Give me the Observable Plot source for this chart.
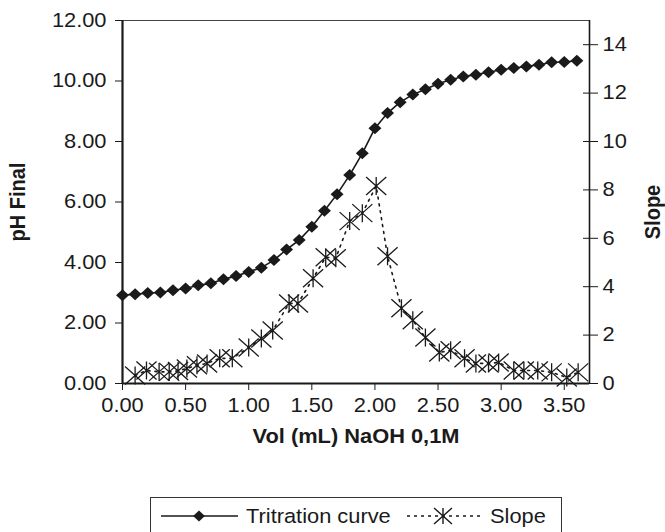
<!DOCTYPE html>
<html>
<head>
<meta charset="utf-8">
<script src="https://cdn.jsdelivr.net/npm/d3@7"></script>
<script src="https://cdn.jsdelivr.net/npm/@observablehq/plot@0.6"></script>
<style>
  html, body { margin: 0; padding: 0; background: #fff; }
  #wrap { position: relative; width: 665px; height: 532px; overflow: hidden; font-family: "Liberation Sans", Arial, sans-serif; }
  #legend { position: absolute; left: 150px; top: 497px; width: 412px; height: 42px; box-sizing: border-box; border: 1px solid #333; background: #fff; }
</style>
</head>
<body>
<div id="wrap"><div id="chart"></div><div id="legend"></div></div>
<script>
// ---- data ----
const volume = [0.0,0.1,0.2,0.3,0.4,0.5,0.6,0.7,0.8,0.9,1.0,1.1,1.2,1.3,1.4,1.5,1.6,1.7,1.8,1.9,2.0,2.1,2.2,2.3,2.4,2.5,2.6,2.7,2.8,2.9,3.0,3.1,3.2,3.3,3.4,3.5,3.6];
const pH = [2.92,2.95,2.99,3.01,3.08,3.14,3.25,3.31,3.45,3.55,3.69,3.83,4.08,4.43,4.74,5.18,5.71,6.26,6.89,7.61,8.44,8.94,9.30,9.55,9.73,9.91,10.04,10.15,10.21,10.29,10.37,10.43,10.48,10.54,10.62,10.63,10.67];
const slopeVolume = [0.10,0.19,0.29,0.37,0.44,0.51,0.59,0.67,0.77,0.87,1.00,1.10,1.19,1.32,1.39,1.51,1.61,1.69,1.80,1.90,2.01,2.10,2.21,2.30,2.40,2.51,2.60,2.71,2.80,2.90,2.98,3.10,3.18,3.29,3.40,3.52,3.61];
const slope = [0.33,0.54,0.48,0.48,0.52,0.62,0.75,0.83,1.04,1.04,1.49,1.86,2.19,3.31,3.31,4.35,5.22,5.18,6.71,7.04,8.16,5.26,3.11,2.61,1.90,1.28,1.37,1.04,0.83,0.83,0.87,0.54,0.54,0.54,0.46,0.25,0.46];
const xTicks = [0,0.5,1.0,1.5,2.0,2.5,3.0,3.5];
const xMax = 3.7;
const pHTicks = [0,2,4,6,8,10,12];
const pHMax = 12;
const slopeTicks = [0,2,4,6,8,10,12,14];
const slopeMax = 15;
const xLabel = "Vol (mL) NaOH 0,1M";
const yLabel = "pH Final";
const y2Label = "Slope";
const seriesNames = ["Tritration curve", "Slope"];

// ---- build tables ----
const k = pHMax / slopeMax; // map slope onto the pH scale
const phData = volume.map((v, i) => ({v, y: pH[i]}));
const slopeData = slopeVolume.map((v, i) => ({v, s: slope[i], y: slope[i] * k}));

// Excel-like star marker (X plus vertical bar), slightly wider than tall
const star = {
  draw(ctx, size) {
    const h = Math.sqrt(size / Math.PI);
    const w = h * 1.12;
    ctx.moveTo(-w, -h); ctx.lineTo(w, h);
    ctx.moveTo(-w, h); ctx.lineTo(w, -h);
    ctx.moveTo(0, -h); ctx.lineTo(0, h);
  }
};
// diamond marker, slightly wider than tall
const diamond = {
  draw(ctx, size) {
    const h = Math.sqrt(size / Math.PI);
    const w = h * 1.08;
    ctx.moveTo(0, -h); ctx.lineTo(w, 0); ctx.lineTo(0, h); ctx.lineTo(-w, 0); ctx.closePath();
  }
};

const ink = "#1a1a1a";
const font = "'Liberation Sans', Arial, Helvetica, sans-serif";
const chart = Plot.plot({
  width: 665,
  height: 470,
  marginLeft: 122,
  marginRight: 76,
  marginTop: 20,
  marginBottom: 87,
  x: {domain: [0, xMax]},
  y: {domain: [0, pHMax]},
  style: {fontFamily: font, fontSize: "19.5px", color: ink, background: "#fff", overflow: "visible"},
  marks: [
    Plot.frame({stroke: "#444", strokeWidth: 1}),
    Plot.ruleX([0], {stroke: ink, strokeWidth: 2.2}),
    Plot.ruleX([xMax], {stroke: ink, strokeWidth: 1.6}),
    Plot.ruleY([0], {stroke: ink, strokeWidth: 1.8}),
    Plot.axisX({ticks: xTicks, tickFormat: d => d.toFixed(2), tickSize: 7, tickPadding: 8, label: null, stroke: ink}),
    Plot.axisY({ticks: pHTicks, tickFormat: d => d.toFixed(2), tickSize: 7, tickPadding: 9, label: null, stroke: ink}),
    Plot.axisY({anchor: "right", ticks: slopeTicks.map(t => t * k), tickFormat: d => String(Math.round(d / k)), tickSize: 8, tickPadding: 5, label: null, stroke: ink}),
    Plot.axisY({anchor: "right", ticks: slopeTicks.map(t => t * k), tickFormat: () => "", tickSize: 7, dx: -7, label: null, stroke: ink}),
    Plot.text([yLabel], {frameAnchor: "left", textAnchor: "middle", rotate: -90, dx: -105, fontWeight: "bold", fontSize: 20, fill: ink}),
    Plot.text([y2Label], {frameAnchor: "right", textAnchor: "middle", rotate: -90, dx: 63, dy: 10, fontWeight: "bold", fontSize: 20, fill: ink}),
    Plot.text([xLabel], {frameAnchor: "bottom", dy: 59, fontWeight: "bold", fontSize: 19.5, fill: ink}),
    Plot.line(slopeData, {x: "v", y: "y", stroke: ink, strokeWidth: 1.6, strokeDasharray: "2,5"}),
    Plot.dot(slopeData, {x: "v", y: "y", symbol: star, r: 9, fill: "none", stroke: ink, strokeWidth: 1.3}),
    Plot.line(phData, {x: "v", y: "y", stroke: ink, strokeWidth: 1.6}),
    Plot.dot(phData, {x: "v", y: "y", symbol: diamond, r: 6, fill: ink, stroke: "none"})
  ]
});
document.getElementById("chart").appendChild(chart);

// the reference's lettering is a little wider than Liberation Sans: widen each text around its anchor
function widen(root, sx) {
  root.querySelectorAll("text").forEach(el => {
    const t = el.getAttribute("transform");
    if (t) {
      el.setAttribute("transform", t + (/rotate/.test(t) ? ` scale(1,${sx})` : ` scale(${sx},1)`));
    } else {
      const x = +el.getAttribute("x") || 0, y = +el.getAttribute("y") || 0;
      el.setAttribute("transform", `translate(${x},${y}) scale(${sx},1) translate(${-x},${-y})`);
    }
  });
}
widen(chart, 1.12);

// ---- legend ----
const lg = d3.select("#legend").append("svg").attr("width", 410).attr("height", 40)
  .style("font-family", font);
lg.append("line").attr("x1", 10).attr("x2", 87).attr("y1", 18).attr("y2", 18).attr("stroke", ink).attr("stroke-width", 1.6);
lg.append("path").attr("d", () => { const p = d3.path(); diamond.draw(p, Math.PI * 30); return p.toString(); }).attr("transform", "translate(48,18)").attr("fill", ink);
lg.append("text").attr("x", 95).attr("y", 25).attr("font-size", 19.5).attr("fill", ink).text(seriesNames[0]);
lg.append("line").attr("x1", 256).attr("x2", 331).attr("y1", 18).attr("y2", 18).attr("stroke", ink).attr("stroke-width", 1.6).attr("stroke-dasharray", "3,4");
lg.append("path").attr("d", () => { const p = d3.path(); star.draw(p, Math.PI * 64); return p.toString(); }).attr("transform", "translate(292,18)").attr("fill", "none").attr("stroke", ink).attr("stroke-width", 1.4);
lg.append("text").attr("x", 339).attr("y", 25).attr("font-size", 19.5).attr("fill", ink).text(seriesNames[1]);
widen(lg.node(), 1.12);
</script>
</body>
</html>
